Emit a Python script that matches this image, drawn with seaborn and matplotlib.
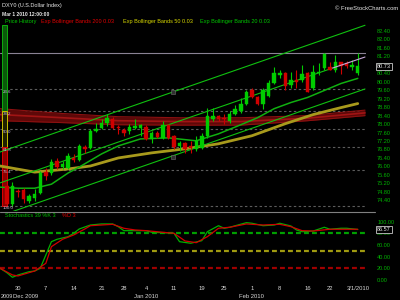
import matplotlib
matplotlib.use("Agg")
import matplotlib.pyplot as plt
from matplotlib.patches import Rectangle
from matplotlib.lines import Line2D
import matplotlib.transforms as mtransforms
import numpy as np
import pandas as pd
import seaborn as sns

# ---------------- data ----------------
first_index = -2  # trading-day index of first candle (Nov 25 2009); Nov 30 2009 = 0
opens = [75.07, 74.21, 74.83, 74.88, 74.35, 74.50, 74.73, 75.73, 75.69, 76.26,
         75.97, 75.92, 76.40, 76.30, 76.92, 76.88, 77.69, 77.83, 78.07, 78.26,
         77.88, 77.73, 77.69, 77.83, 77.83, 77.88, 77.30, 77.59, 77.35, 77.97,
         77.45, 76.97, 77.11, 76.97, 76.83, 76.88, 77.45, 78.26, 78.40, 78.30,
         78.16, 78.50, 78.64, 78.97, 79.59, 79.26, 78.97, 79.35, 79.92, 80.30,
         80.40, 79.83, 80.07, 80.07, 80.40, 79.69, 80.40, 80.64, 80.69, 80.54,
         80.92, 80.88, 80.69, 80.40]
highs = [75.16, 75.26, 74.92, 74.97, 74.69, 74.92, 75.78, 75.92, 76.35, 76.40,
         76.26, 76.64, 76.59, 77.07, 77.02, 77.78, 78.07, 78.26, 78.50, 78.35,
         77.97, 77.83, 78.02, 78.26, 78.02, 77.97, 77.69, 77.69, 78.16, 78.02,
         77.50, 77.21, 77.16, 77.21, 77.45, 77.59, 78.78, 78.78, 78.45, 78.50,
         78.64, 78.88, 79.21, 79.59, 79.69, 79.31, 79.69, 80.07, 80.69, 80.54,
         80.45, 80.45, 80.54, 80.78, 80.45, 80.78, 80.88, 81.35, 80.92, 81.26,
         80.92, 80.97, 81.02, 81.35]
lows = [74.11, 74.11, 74.54, 74.26, 74.26, 74.35, 74.69, 75.35, 75.59, 75.88,
        75.88, 75.88, 76.21, 76.26, 76.64, 76.83, 77.64, 77.78, 77.92, 77.78,
        77.54, 77.45, 77.54, 77.78, 77.45, 77.26, 77.11, 77.35, 77.30, 77.30,
        76.83, 76.73, 76.64, 76.64, 76.73, 76.83, 77.35, 78.16, 78.16, 78.02,
        78.07, 78.45, 78.54, 78.88, 79.21, 78.92, 78.73, 79.26, 79.88, 80.16,
        79.59, 79.69, 79.69, 79.97, 79.50, 79.59, 80.30, 80.54, 80.54, 80.45,
        80.35, 80.64, 80.54, 80.30]
closes = [74.21, 75.07, 74.78, 74.45, 74.59, 74.69, 75.69, 75.54, 76.21, 75.97,
          76.11, 76.50, 76.30, 76.97, 76.83, 77.69, 77.78, 78.07, 78.30, 77.83,
          77.83, 77.59, 77.88, 77.92, 77.97, 77.30, 77.59, 77.40, 77.97, 77.35,
          76.92, 77.11, 76.83, 76.88, 77.21, 77.45, 78.40, 78.40, 78.26, 78.26,
          78.50, 78.73, 78.97, 79.50, 79.26, 78.97, 79.59, 79.92, 80.40, 80.40,
          79.78, 80.07, 79.97, 80.35, 79.54, 80.45, 80.45, 81.30, 80.54, 80.92,
          80.73, 80.73, 80.78, 80.73]

# Exp Bollinger Bands 200 (red)
b200_idx = [-3.23, 8, 18, 29, 40, 52, 62.3]
b200_upper = [78.73, 78.50, 78.35, 78.30, 78.30, 78.40, 78.66]
b200_mid = [78.45, 78.30, 78.16, 78.12, 78.12, 78.28, 78.53]
b200_lower = [78.16, 78.07, 77.97, 77.95, 77.95, 78.16, 78.40]

# Exp Bollinger Bands 50 (yellow middle line)
b50_idx = [-3.23, 3, 9, 13, 18, 24, 30, 36, 42, 48, 53, 58, 61]
b50_mid = [76.02, 75.73, 75.88, 76.02, 76.40, 76.64, 76.83, 77.07, 77.45, 78.02, 78.45, 78.78, 78.97]

# Exp Bollinger Bands 20 (green middle line)
b20_idx = [-3.23, 0, 3, 6, 9, 11, 15, 18, 22, 27, 32, 36, 40, 43, 46, 49, 52, 55, 58, 61]
b20_mid = [75.02, 74.97, 74.97, 75.16, 75.69, 75.97, 76.59, 76.97, 77.30, 77.35,
           77.21, 77.54, 77.97, 78.30, 78.73, 79.02, 79.26, 79.59, 79.92, 80.16]

# Trend channel (drawn object)
chan_idx = [-3.23, 62.3]
chan_upper = [76.68, 82.67]
chan_lower = [73.66, 79.66]
chan_mid_idx = [-3.23, 56.5]
chan_mid = [75.22, 80.65]
chan_tail_idx = [56.5, 62.3]
chan_tail = [80.65, 81.17]
handle_idx = [27.8, 27.8]
handle_val = [79.52, 76.45]

# Fibonacci retracement
fib_high = 81.35
fib_low = 74.15
fib_levels = [0.0, 23.6, 38.2, 50.0, 61.8, 76.4, 100.0]
fib_zone_top = 82.69

# Stochastics 39 %K 3 %D 3
k_idx = [-3.23, -2, -1, 0, 2, 3, 4, 5, 6, 7, 9, 10, 11, 13, 15, 17, 18, 19, 21, 23,
         24, 26, 28, 29, 31, 33, 34, 36, 37, 38, 41, 42, 44, 46, 47, 49, 50, 51, 53,
         55, 56, 58, 59, 61]
k_val = [20.1, 12.5, 4.6, 8.6, 14.2, 15.4, 20.1, 42.9, 65.7, 69.8, 74.3, 80.1, 87.5,
         94.3, 96.1, 96.1, 91.4, 84.6, 84.6, 84.6, 81.8, 81.1, 80.1, 65.7, 63.0, 67.4,
         82.8, 93.1, 88.7, 90.4, 98.3, 97.3, 93.1, 94.3, 97.3, 92.6, 85.8, 82.8, 84.0,
         90.4, 87.0, 88.7, 88.7, 86.57]
d_idx = [-3.23, -1, 0, 3, 5, 6, 8, 10, 12, 13, 17, 19, 21, 23, 26, 28, 30, 32, 34, 36,
         38, 41, 44, 47, 49, 51, 53, 56, 61]
d_val = [20.1, 8.6, 6.9, 15.4, 28.6, 57.1, 69.8, 77.2, 87.5, 93.1, 95.5, 88.7, 85.8,
         84.6, 81.8, 80.1, 66.9, 64.0, 74.3, 88.7, 90.4, 96.1, 94.3, 95.5, 91.4, 84.6,
         84.0, 87.0, 87.0]
stoch_levels = [80, 50, 20]

price_ticks = [74.40, 74.80, 75.20, 75.60, 76.00, 76.40, 76.80, 77.20, 77.60, 78.00,
               78.40, 78.80, 79.20, 79.60, 80.00, 80.40, 80.80, 81.20, 81.60, 82.00, 82.40]
stoch_ticks = [0, 20, 40, 60, 80, 100]
last_price = 80.73
last_stoch = 86.57

date_idx = [0, 5, 10, 15, 19, 23, 28, 33, 37, 42, 47, 52, 56, 61]
date_labels = ["30", "7", "14", "21", "28", "4", "11", "19", "25", "1", "8", "16", "22", "3/1/2010"]
month_idx = [1.4, 23, 42]
month_labels = ["Dec 2009", "Jan 2010", "Feb 2010"]
year_label = "2009"

# ---------------- style ----------------
sns.set_theme(style="dark", rc={"axes.facecolor": "black", "figure.facecolor": "black",
                                "axes.grid": False})
plt.rcParams['font.family'] = ['Liberation Sans', 'DejaVu Sans']

GREEN = '#00cc00'
RED = '#d00000'
W, H = 400, 300


def fx(x):
    return x / W


def fy(y):
    return 1 - y / H


fig = plt.figure(figsize=(4, 3), dpi=100, facecolor='black')
ax = fig.add_axes([0, fy(211), fx(366), (211 - 18) / H])
ax2 = fig.add_axes([0, fy(284), fx(366), (284 - 212) / H])
for a in (ax, ax2):
    a.set_facecolor('black')
    for s in a.spines.values():
        s.set_visible(False)
    a.grid(False)
    a.set_xlim(-3.232, 62.48)
ax.set_ylim(73.893, 83.014)
ax2.set_ylim(-6.9, 116.6)

# ---- Fibonacci lines and labels ----
rng = fib_high - fib_low
fib_prices = [fib_high - rng * lv / 100 for lv in fib_levels]
for lv, p in zip(fib_levels, fib_prices):
    if lv == 0:
        ax.axhline(p, color='#8a8294', lw=0.8, zorder=1)
    else:
        ax.axhline(p, color='#5c5c5c', lw=0.8, dashes=(2.2, 2.2), zorder=1)
        ax.text(-2.75, p - 0.04, f"{lv:.1f}", fontsize=3.2, color='#c8b8d8',
                va='top', ha='left', zorder=8)

# fib zone bar at left
p382 = fib_prices[2]
p618 = fib_prices[4]
p100 = fib_prices[6]
ax.add_patch(Rectangle((-2.96, p382), 0.9, fib_zone_top - p382, fc='#0a5a0a', ec='#10c010', lw=0.6, zorder=3))
ax.add_patch(Rectangle((-2.96, p618), 1.07, p382 - p618, fc='#202000', ec='#c8c000', lw=0.7, zorder=3))
ax.add_patch(Rectangle((-2.96, p100), 1.07, p618 - p100, fc='#8a0000', ec='#e00000', lw=0.7, zorder=3))

# ---- Bollinger 200 (red band) ----
ax.fill_between(b200_idx, b200_lower, b200_upper, color='#5e0808', lw=0, zorder=2)
sns.lineplot(x=b200_idx, y=b200_upper, ax=ax, color='#8c1010', lw=0.8, zorder=2)
sns.lineplot(x=b200_idx, y=b200_mid, ax=ax, color='#a01414', lw=1.2, zorder=2)
sns.lineplot(x=b200_idx, y=b200_lower, ax=ax, color='#8c1010', lw=0.8, zorder=2)

# ---- Bollinger 50 (yellow) ----
sns.lineplot(x=b50_idx, y=b50_mid, ax=ax, color='#a89a1c', lw=2.0, zorder=3)

# ---- Bollinger 20 (green) ----
sns.lineplot(x=b20_idx, y=b20_mid, ax=ax, color='#10b010', lw=1.1, zorder=3)

# ---- channel ----
sns.lineplot(x=chan_idx, y=chan_upper, ax=ax, color='#10c010', lw=0.8, zorder=4)
sns.lineplot(x=chan_idx, y=chan_lower, ax=ax, color='#10c010', lw=0.8, zorder=4)
sns.lineplot(x=chan_mid_idx, y=chan_mid, ax=ax, color='#10c010', lw=0.8, zorder=4)
sns.lineplot(x=chan_tail_idx, y=chan_tail, ax=ax, color='#c8a8d8', lw=0.8, zorder=7)
ax.scatter(handle_idx, handle_val, marker='s', s=9, facecolor='#303030', edgecolor='#707070',
           linewidths=0.4, zorder=7)

# ---- candles ----
o = np.array(opens)
h = np.array(highs)
l = np.array(lows)
c = np.array(closes)
idx = np.arange(first_index, first_index + len(o))
cols = np.where(c >= o, GREEN, RED)
ax.vlines(idx, l, h, colors=cols, lw=0.8, zorder=5)
ax.bar(idx, np.maximum(np.abs(c - o), 0.05), bottom=np.minimum(o, c), width=0.62,
       color=cols, edgecolor=cols, lw=0.3, zorder=6)

# ---- price axis ----
ax.set_xticks([])
ax.yaxis.tick_right()
ax.set_yticks(price_ticks, labels=[f"{t:.2f}" for t in price_ticks])
ax.tick_params(axis='y', colors='#00b400', labelsize=4, length=0, pad=8)
ax.set_xlabel('')
ax.set_ylabel('')
tr = mtransforms.blended_transform_factory(ax.transAxes, ax.transData)
ax.text(377 / 366, last_price, f"{last_price:.2f}", transform=tr, fontsize=4, color='#e8e8e8',
        va='center', ha='left', zorder=10,
        bbox=dict(boxstyle='square,pad=0.2', fc='black', ec='#c8c8c8', lw=0.6))

# ---- stochastics ----
for lv, col in zip(stoch_levels, ['#00a000', '#a09a10', '#a00000']):
    ax2.axhline(lv, color=col, lw=1.6, dashes=(2.2, 1.4), zorder=1)
sns.lineplot(x=k_idx, y=k_val, ax=ax2, color='#00b000', lw=0.9, zorder=3)
sns.lineplot(x=d_idx, y=d_val, ax=ax2, color='#d00000', lw=0.9, zorder=3)
ax2.yaxis.tick_right()
ax2.set_yticks(stoch_ticks, labels=[f"{t:.2f}" for t in stoch_ticks])
ax2.tick_params(axis='y', colors='#00b400', labelsize=4, length=0, pad=8)
ax2.set_xticks(date_idx, labels=date_labels)
ax2.tick_params(axis='x', colors='#d8d8d8', labelsize=4.2, length=0, pad=1.5)
ax2.set_xlabel('')
ax2.set_ylabel('')
tr2 = mtransforms.blended_transform_factory(ax2.transAxes, ax2.transData)
ax2.text(377 / 366, last_stoch, f"{last_stoch:.2f}", transform=tr2, fontsize=4, color='#e8e8e8',
         va='center', ha='left', zorder=10,
         bbox=dict(boxstyle='square,pad=0.2', fc='black', ec='#c8c8c8', lw=0.6))
trm = mtransforms.blended_transform_factory(ax2.transData, fig.transFigure)
for mi, ml in zip(month_idx, month_labels):
    ax2.text(mi, fy(296), ml, transform=trm, fontsize=4.2, color='#d8d8d8', ha='center', va='center')
fig.text(fx(0.5), fy(296), year_label, fontsize=4.0, color='#d8d8d8', ha='left', va='center')

# separator line
fig.add_artist(Line2D([0, fx(375)], [fy(211.5), fy(211.5)], color='#808080', lw=0.8))

# stochastics title
fig.text(fx(5), fy(215.5), "Stochastics 39 %K 3", fontsize=4, color='#00c000', ha='left', va='center')
fig.text(fx(62), fy(215.5), "%D 3", fontsize=4, color='#e00000', ha='left', va='center')

# ---- header ----
fig.text(fx(2), fy(6), "DXY0 (U.S.Dollar Index)", fontsize=4, color='#e8e8e8', ha='left', va='center')
fig.text(fx(2), fy(14), "Mar 1 2010 12:00:00", fontsize=3.6, color='#e8e8e8', ha='left', va='center',
         fontweight='bold')
fig.text(fx(5), fy(22), "Price History", fontsize=4, color='#00c800', ha='left', va='center')
fig.text(fx(41), fy(22), "Exp Bollinger Bands 200 0.03", fontsize=4, color='#e00000', ha='left', va='center')
fig.text(fx(123), fy(22), "Exp Bollinger Bands 50 0.03", fontsize=4, color='#d8d800', ha='left', va='center')
fig.text(fx(200), fy(22), "Exp Bollinger Bands 20 0.03", fontsize=4, color='#00c800', ha='left', va='center')
fig.text(fx(398), fy(9), "\u00a9 FreeStockCharts.com", fontsize=4.2, color='#e8e8e8', ha='right', va='center')

fig.savefig("out.png", dpi=100, facecolor='black')
